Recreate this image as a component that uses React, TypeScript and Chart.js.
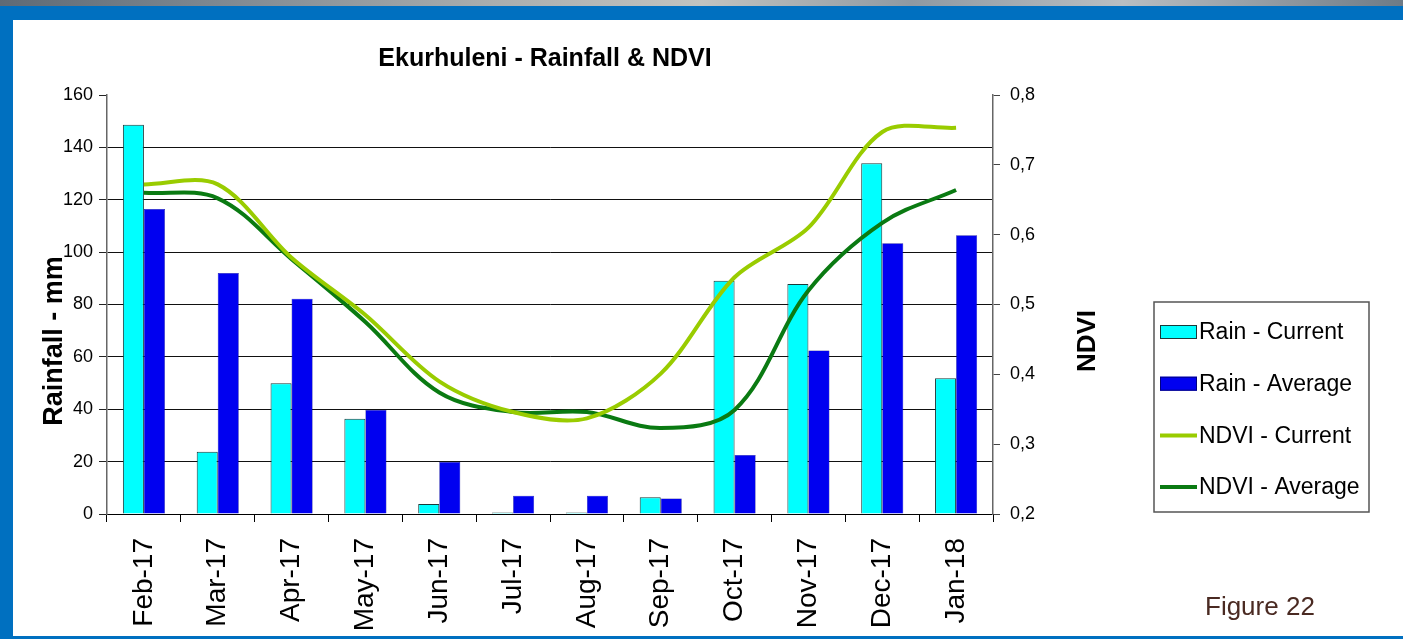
import React, { useEffect, useRef } from "react";
import { Chart, registerables } from "chart.js";

Chart.register(...registerables);

const TITLE = "Ekurhuleni - Rainfall & NDVI";
const Y_LEFT_TITLE = "Rainfall - mm";
const Y_RIGHT_TITLE = "NDVI";
const FIGURE_LABEL = "Figure 22";

const categories = [
  "Feb-17", "Mar-17", "Apr-17", "May-17", "Jun-17", "Jul-17",
  "Aug-17", "Sep-17", "Oct-17", "Nov-17", "Dec-17", "Jan-18",
];
const rainCurrent = [148.6, 23.8, 49.9, 36.4, 3.8, 0.6, 0.6, 6.4, 89.1, 87.8, 133.9, 51.8];
const rainAverage = [116.5, 92, 82.2, 39.7, 19.9, 7, 7, 5.9, 22.5, 62.4, 103.4, 106.4];
const ndviCurrent = [0.672, 0.672, 0.567, 0.485, 0.39, 0.346, 0.337, 0.401, 0.539, 0.61, 0.747, 0.753];
const ndviAverage = [0.66, 0.652, 0.565, 0.475, 0.374, 0.346, 0.346, 0.323, 0.349, 0.52, 0.617, 0.664];

const FONT = '"Liberation Sans", Arial, sans-serif';

const decorPlugin = {
  id: "decor",
  afterDraw(chart: any) {
    const { ctx, chartArea: a } = chart;
    ctx.save();
    ctx.fillStyle = "#000";
    ctx.textAlign = "center";
    ctx.textBaseline = "middle";
    ctx.font = `bold 25px ${FONT}`;
    ctx.fillText(TITLE, (a.left + a.right) / 2 - 5, 39);

    ctx.font = `bold 27px ${FONT}`;
    ctx.save();
    ctx.translate(42, 321);
    ctx.rotate(-Math.PI / 2);
    ctx.fillText(Y_LEFT_TITLE, 0, 0);
    ctx.restore();
    ctx.font = `bold 26px ${FONT}`;
    ctx.save();
    ctx.translate(1075, 321);
    ctx.rotate(-Math.PI / 2);
    ctx.fillText(Y_RIGHT_TITLE, 0, 0);
    ctx.restore();

    // legend
    ctx.strokeStyle = "#555";
    ctx.lineWidth = 1.5;
    ctx.strokeRect(1141, 282, 215, 210);
    ctx.font = `23px ${FONT}`;
    ctx.textAlign = "left";
    chart.data.datasets.forEach((ds: any, i: number) => {
      const y = 312 + i * 51.7;
      if (ds.type === "line") {
        ctx.strokeStyle = ds.borderColor;
        ctx.lineWidth = 4;
        ctx.beginPath();
        ctx.moveTo(1147, y);
        ctx.lineTo(1184, y);
        ctx.stroke();
      } else {
        ctx.fillStyle = ds.backgroundColor;
        ctx.fillRect(1147, y - 7, 37, 14);
        ctx.strokeStyle = ds.borderColor;
        ctx.lineWidth = 1;
        ctx.strokeRect(1147.5, y - 6.5, 36, 13);
      }
      ctx.fillStyle = "#000";
      ctx.fillText(ds.label, 1186, y + 1);
    });
    ctx.restore();
  },
};

export default function App() {
  const ref = useRef<HTMLCanvasElement | null>(null);

  useEffect(() => {
    if (!ref.current) return;
    const chart = new Chart(ref.current, {
      type: "bar",
      data: {
        labels: categories,
        datasets: [
          {
            type: "bar",
            label: "Rain - Current",
            data: rainCurrent,
            backgroundColor: "#00FFFF",
            borderColor: "#1a3a3a",
            borderWidth: 1,
            yAxisID: "y",
            order: 2,
          },
          {
            type: "bar",
            label: "Rain - Average",
            data: rainAverage,
            backgroundColor: "#0000F0",
            borderColor: "#000080",
            borderWidth: 0.5,
            yAxisID: "y",
            order: 2,
          },
          {
            type: "line",
            label: "NDVI - Current",
            data: ndviCurrent,
            borderColor: "#99CC00",
            backgroundColor: "#99CC00",
            borderWidth: 4,
            pointRadius: 0,
            tension: 0.32,
            yAxisID: "y1",
            order: 0,
          },
          {
            type: "line",
            label: "NDVI - Average",
            data: ndviAverage,
            borderColor: "#0A7A12",
            backgroundColor: "#0A7A12",
            borderWidth: 4,
            pointRadius: 0,
            tension: 0.35,
            yAxisID: "y1",
            order: 1,
          },
        ] as any,
      },
      options: {
        responsive: false,
        animation: false,
        layout: { padding: { top: 75, left: 0, right: 0, bottom: 0 } },
        datasets: { bar: { categoryPercentage: 0.57, barPercentage: 1 } } as any,
        plugins: {
          legend: { display: false },
          title: { display: false },
          tooltip: { enabled: false },
        },
        scales: {
          x: {
            grid: {
              offset: true,
              drawOnChartArea: false,
              color: "#000",
              tickLength: 8,
            },
            border: { display: true, color: "#000", width: 1 },
            ticks: {
              minRotation: 90,
              maxRotation: 90,
              autoSkip: false,
              padding: 16,
              color: "#000",
              font: { size: 28, family: FONT },
            },
            afterFit: (s: any) => { s.height = 122; },
          },
          y: {
            position: "left",
            min: 0,
            max: 160,
            ticks: {
              stepSize: 20,
              padding: 6,
              color: "#000",
              font: { size: 18, family: FONT },
            },
            grid: {
              color: (c: any) => (c.tick && c.tick.value === 160 ? "rgba(0,0,0,0)" : "#111"),
              tickColor: "#222",
              tickLength: 8,
              lineWidth: 1,
            },
            border: { display: true, color: "#666", width: 1.5 },
            afterFit: (s: any) => { s.width = 94; },
          },
          y1: {
            position: "right",
            min: 0.2,
            max: 0.8,
            ticks: {
              stepSize: 0.1,
              padding: 10,
              color: "#000",
              font: { size: 18, family: FONT },
              callback: (v: any) => Number(v).toFixed(1).replace(".", ","),
            },
            grid: { drawOnChartArea: false, color: "#444", tickLength: 7 },
            border: { display: true, color: "#666", width: 1.5 },
            afterFit: (s: any) => { s.width = 410; },
          },
        },
      } as any,
      plugins: [decorPlugin],
    });
    return () => chart.destroy();
  }, []);

  return (
    <div
      style={{
        position: "fixed",
        left: 0,
        top: 0,
        width: 1403,
        height: 639,
        overflow: "hidden",
        background: "#fff",
      }}
    >
      <div
        style={{
          position: "absolute", left: 0, top: 0, width: 1403, height: 6,
          background:
            "linear-gradient(90deg, #5f6a75 0%, #7d8790 15%, #a9adae 35%, #c2c3c0 50%, #8f99a2 65%, #b9bec2 80%, #6f7b86 100%)",
        }}
      />
      <div style={{ position: "absolute", left: 0, top: 6, width: 1403, height: 14, background: "#0070C0" }} />
      <div style={{ position: "absolute", left: 0, top: 6, width: 13, height: 633, background: "#0070C0" }} />
      <div style={{ position: "absolute", left: 0, top: 636, width: 1403, height: 3, background: "#0070C0" }} />
      <canvas
        ref={ref}
        width={1390}
        height={616}
        style={{ position: "absolute", left: 13, top: 20, width: 1390, height: 616 }}
      />
      <div
        style={{
          position: "absolute",
          left: 1205,
          top: 590,
          fontFamily: FONT,
          fontSize: 26,
          lineHeight: "32px",
          color: "#4a2a22",
          whiteSpace: "nowrap",
        }}
      >
        {FIGURE_LABEL}
      </div>
    </div>
  );
}
